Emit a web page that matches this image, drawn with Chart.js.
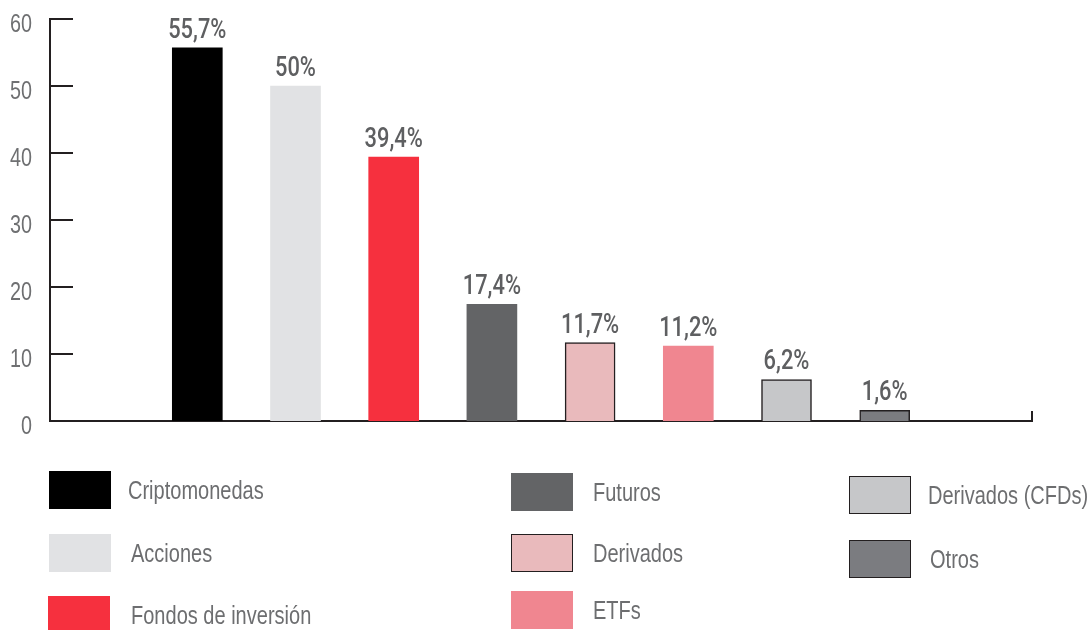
<!DOCTYPE html>
<html>
<head>
<meta charset="utf-8">
<script src="https://cdn.jsdelivr.net/npm/chart.js"></script>
<style>
  body { margin: 0; background: #fff; }
  #wrap { position: relative; width: 1091px; height: 630px; overflow: hidden; }
  #legend .sw { position: absolute; width: 62px; height: 38px; box-sizing: border-box; }
  #legend .tx { position: absolute; font-family: 'Liberation Sans', Arial, sans-serif;
    font-size: 26px; color: #6d6e70; line-height: 38px; white-space: nowrap;
    transform: scaleX(0.77); transform-origin: 0 50%; }
</style>
</head>
<body>
<div id="wrap">
  <canvas id="chart" width="1091" height="630"></canvas>
  <div id="legend"></div>
</div>
<script>
const categories = ['Criptomonedas', 'Acciones', 'Fondos de inversión', 'Futuros', 'Derivados', 'ETFs', 'Derivados (CFDs)', 'Otros'];
const values = [55.7, 50, 39.4, 17.4, 11.7, 11.2, 6.2, 1.6];
const yTicks = [0, 10, 20, 30, 40, 50, 60];
const colors = ['#000000', '#e1e2e4', '#f6303e', '#636466', '#e9babc', '#f08690', '#c6c7c9', '#7b7c80'];
const outlined = [false, false, false, false, true, false, true, true];

// legend placement: [swatch left, swatch top, text left]
const legendPos = [
  [49, 471, 128], [49, 534, 131], [48, 596, 131],
  [511, 473, 593], [511, 534, 593], [511, 591, 593],
  [849, 476, 928], [849, 540, 930]
];

const FONT = "'Liberation Sans', Arial, sans-serif";
const pct = v => String(v).replace('.', ',') + '%';

const labels = ['', ...categories, ''];
const data = [null, ...values, null];
const bg = ['transparent', ...colors, 'transparent'];
const bw = [0, ...outlined.map(o => o ? 1.5 : 0), 0];

function squeezedText(ctx, text, x, y, sx, align) {
  ctx.save();
  ctx.translate(x, y);
  ctx.scale(sx, 1);
  ctx.textAlign = align;
  ctx.textBaseline = 'alphabetic';
  ctx.fillText(text, 0, 0);
  ctx.restore();
}

const axisMarks = {
  id: 'axisMarks',
  afterDraw(chart) {
    const { ctx, chartArea, scales: { y } } = chart;
    ctx.save();
    ctx.strokeStyle = '#231f20';
    ctx.lineWidth = 2;
    yTicks.forEach(t => {
      const py = y.getPixelForValue(t);
      ctx.beginPath();
      ctx.moveTo(chartArea.left, py);
      ctx.lineTo(chartArea.left + 23, py);
      ctx.stroke();
    });
    ctx.beginPath();
    ctx.moveTo(chartArea.right, chartArea.bottom);
    ctx.lineTo(chartArea.right, chartArea.bottom - 10);
    ctx.stroke();
    // y tick labels
    ctx.font = '26px ' + FONT;
    ctx.fillStyle = '#6f7072';
    yTicks.forEach(t => {
      squeezedText(ctx, String(t), chartArea.left - 18, y.getPixelForValue(t) + 12.5, 0.76, 'right');
    });
    ctx.restore();
  }
};

const barLabels = {
  id: 'barLabels',
  afterDatasetsDraw(chart) {
    const { ctx } = chart;
    const meta = chart.getDatasetMeta(0);
    ctx.save();
    ctx.font = "500 28px Roboto, 'Liberation Sans', sans-serif";
    ctx.fillStyle = '#5e5f61';
    meta.data.forEach((bar, i) => {
      const v = data[i];
      if (v == null) return;
      squeezedText(ctx, pct(v), bar.x, bar.y - 10, 0.78, 'center');
    });
    ctx.restore();
  }
};

new Chart(document.getElementById('chart'), {
  type: 'bar',
  data: {
    labels: labels,
    datasets: [{
      data: data,
      backgroundColor: bg,
      borderColor: '#231f20',
      borderWidth: bw,
      barThickness: 50
    }]
  },
  options: {
    responsive: false,
    animation: false,
    layout: { padding: { top: 19, right: 59, bottom: 209, left: 0 } },
    plugins: { legend: { display: false }, tooltip: { enabled: false } },
    scales: {
      x: {
        grid: { display: false },
        ticks: { display: false },
        border: { display: true, color: '#231f20', width: 2 },
        afterFit: s => { s.height = 0; }
      },
      y: {
        min: 0,
        max: 60,
        afterBuildTicks: s => { s.ticks = yTicks.map(v => ({ value: v })); },
        afterFit: s => { s.width = 50; },
        grid: { display: false, drawTicks: false },
        border: { display: true, color: '#231f20', width: 2 },
        ticks: { display: false }
      }
    }
  },
  plugins: [axisMarks, barLabels]
});

const legend = document.getElementById('legend');
categories.forEach((name, i) => {
  const [sx, sy, tx] = legendPos[i];
  const sw = document.createElement('div');
  sw.className = 'sw';
  sw.style.left = sx + 'px';
  sw.style.top = sy + 'px';
  sw.style.background = colors[i];
  if (outlined[i]) sw.style.border = '1.5px solid #231f20';
  legend.appendChild(sw);
  const t = document.createElement('div');
  t.className = 'tx';
  t.style.left = tx + 'px';
  t.style.top = sy + 'px';
  t.textContent = name;
  legend.appendChild(t);
});
</script>
</body>
</html>
